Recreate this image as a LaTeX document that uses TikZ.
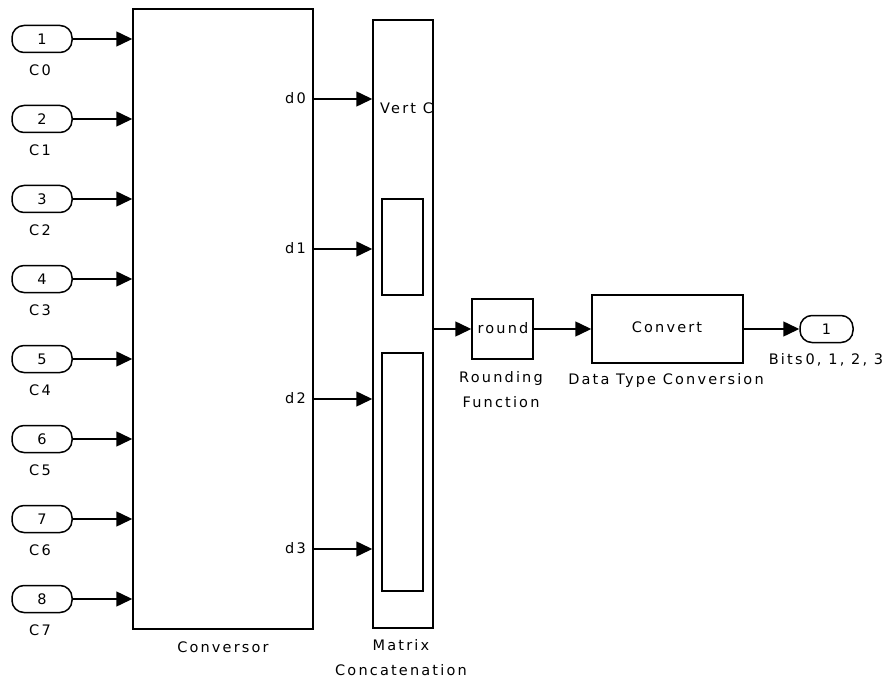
\documentclass[tikz,border=0pt]{standalone}
\usepackage{fontspec}
\setmainfont{DejaVu Sans}[LetterSpace=15]
\usetikzlibrary{arrows.meta}
\begin{document}
\begin{tikzpicture}[x=1pt,y=-1pt,
  font=\fontsize{14.5}{25}\selectfont,
  blk/.style={draw, line width=1.5pt, inner sep=0pt},
  pill/.style={draw, line width=1.5pt, rounded corners=12pt, minimum width=60pt, minimum height=27pt, inner sep=0pt},
  wire/.style={line width=1.5pt, -{Triangle[length=16pt,width=15pt]}},
  lbl/.style={inner sep=0pt}]
\useasboundingbox (0,0) rectangle (889,679);
% Conversor
\node[blk, minimum width=180pt, minimum height=620pt] (conv) at (223,319) {};
\node[lbl] (convlbl) at (223,647) {Conversor};
% inports
\foreach \i/\c in {1/0,2/1,3/2,4/3,5/4,6/5,7/6,8/7}{
  \node[pill] (in\i) at (42,{39+80*(\i-1)}) {\i};
  \node[lbl] (inl\i) at (40,{70+80*(\i-1)}) {C\c};
  \draw[wire] (in\i.east) -- (in\i.east -| conv.west);
}
% Matrix concatenation
\node[blk, minimum width=60pt, minimum height=608pt] (cat) at (403,324) {};
\node[blk, minimum width=41pt, minimum height=96pt] (catin1) at (402.5,247) {};
\node[blk, minimum width=41pt, minimum height=238pt] (catin2) at (402.5,472) {};
\node[lbl, anchor=west] (vert) at (380,108) {Vert C};
\node[lbl, align=center] (catlbl) at (401,658) {Matrix\\Concatenation};
% outputs d0..d3
\foreach \k/\yy in {0/99,1/249,2/399,3/549}{
  \path (conv.east |- 0,\yy) coordinate (o\k);
  \node[lbl, anchor=east] (dl\k) at (306,{\yy-1}) {d\k};
  \draw[wire] (o\k) -- (o\k -| cat.west);
}
% round
\node[blk, minimum width=61pt, minimum height=60pt] (rnd) at (502.5,329) {};
\node[lbl] (rndtxt) at (503,328) {round};
\node[lbl, align=center] (rndlbl) at (501,390) {Rounding\\Function};
% convert
\node[blk, minimum width=151pt, minimum height=68pt] (cvt) at (667.5,329) {};
\node[lbl] (cvttxt) at (667,327) {Convert};
\node[lbl] (cvtlbl) at (666,380) {Data Type Conversion};
% outport
\node[pill, minimum width=53pt] (out) at (826.5,329) {1};
\node[lbl] (outlbl) at (826,360) {Bits\hspace{3pt}0, 1, 2, 3};
% wires
\draw[wire] (cat.east |- rnd.west) -- (rnd.west);
\draw[wire] (rnd.east) -- (cvt.west);
\draw[wire] (cvt.east) -- (out.west);
\end{tikzpicture}
\end{document}
